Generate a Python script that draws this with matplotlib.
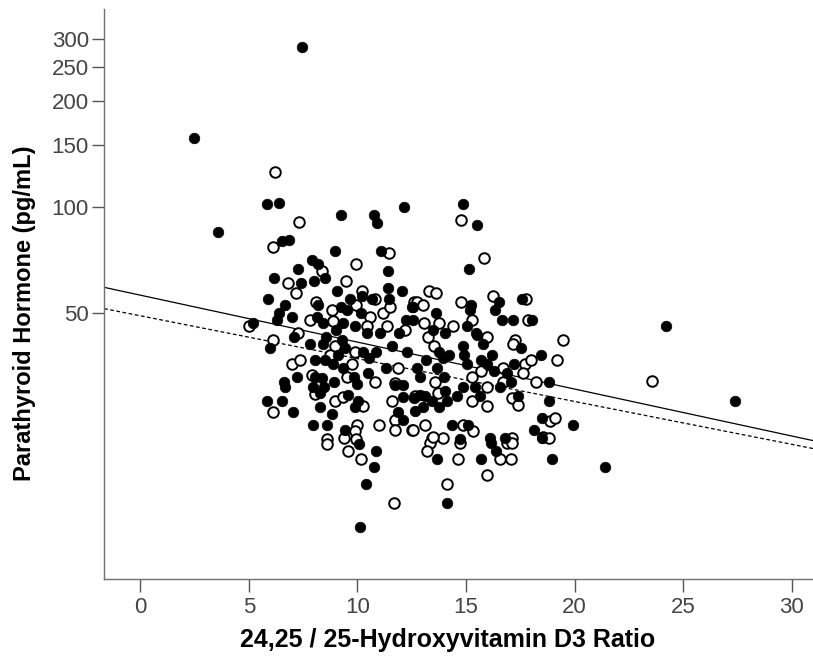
import numpy as np
import matplotlib.pyplot as plt
from matplotlib.ticker import FixedLocator, NullLocator

# filled markers
filled_x = [2.5, 3.6, 7.45, 24.2, 27.4, 21.4,
            5.86, 6.41, 9.24, 10.77, 10.9, 12.16, 6.52, 6.83, 8.97, 11.08, 7.9, 8.2, 7.26, 11.43,
            6.18, 7.4, 8.02, 8.51, 9.05, 11.43, 12.07, 5.9, 9.66, 10.2, 10.66, 11.47, 12.5, 6.67,
            8.2, 6.4, 6.98, 6.3, 8.16, 8.4, 9.25, 9.54, 10.16, 12.24, 5.2, 8.56, 9.0, 9.36, 9.9,
            10.46, 11.04, 11.93, 7.1,
            14.88, 15.52, 15.13, 12.55, 15.23, 15.19, 16.5, 16.33, 17.57, 16.66, 17.18, 18.04,
            13.62, 12.58, 13.5, 14.04, 15.06, 15.46,
            5.98, 7.82, 8.4, 9.28, 9.43, 10.25, 10.86, 10.55, 11.58, 12.27, 8.05, 8.5, 8.87, 9.13,
            9.36, 11.32, 7.2, 8.05, 8.36, 8.93, 9.85, 9.97, 10.5, 6.6, 6.67, 7.95, 8.47, 8.28, 9.59,
            10.05, 9.9, 11.73, 12.12, 12.12, 12.6, 5.86, 6.52, 7.05, 8.3, 8.82, 11.89, 12.12, 7.97,
            8.59, 9.43,
            17.52, 18.44, 13.16, 13.77, 13.95, 14.23, 14.88, 14.9, 15.77, 15.5, 16.18, 15.67, 15.98,
            15.06, 16.29, 17.2, 16.87, 17.06, 18.8, 12.73, 12.89, 13.65, 13.99, 12.89, 13.1, 13.42,
            14.04, 14.12, 14.57, 14.85, 15.42, 15.65, 16.57, 17.37, 13.77, 13.04, 12.66, 14.34,
            15.11, 18.84, 18.5, 19.94, 18.13, 14.73, 16.1, 16.8,
            10.08, 10.84, 10.77, 10.4, 10.12, 13.68, 14.12, 16.14, 16.38, 15.67, 18.5, 18.98]
filled_y = [157, 85, 285, 46, 28.3, 18.3,
            102, 103, 95, 95, 90, 100, 80, 81, 75, 75, 71, 69, 67, 66,
            63, 61, 62, 63, 58, 59, 58, 55, 55, 56, 55, 55, 52, 53,
            53, 50, 49, 48, 49, 47, 52, 51, 50, 48, 47, 43, 45, 47, 46,
            44, 44, 44, 43,
            102, 89, 67, 52, 53, 51, 54, 51, 55, 48, 48, 48,
            50, 48, 45, 44, 46, 44,
            40, 41, 41, 42, 40, 39, 39, 37.5, 40.5, 39, 37, 37, 36, 38,
            35, 35, 33, 33, 32.8, 32, 33, 31.5, 34, 32, 31, 31, 31, 29.8, 29.4,
            28.3, 27.1, 31.3, 31.3, 29, 28.7, 28.2, 28.2, 26.2, 27.2, 26, 26.2, 25, 24.2,
            24.2, 23.3,
            40, 38, 37, 39, 37.5, 38, 40.5, 38, 41, 43.5, 38, 37, 36,
            36, 34.3, 36, 34, 32, 32, 35, 33, 35, 33, 29.4, 29.2, 28.3,
            30.2, 28.3, 29.2, 31, 31, 29.2, 31, 29.2, 27.2, 27.2, 26.4, 24.2,
            24.2, 28.2, 25.2, 24.2, 23.3, 22, 22.2, 22.1,
            21.3, 20.4, 18.3, 16.4, 12.4, 19.3, 14.5, 21.4, 20.4, 19.3, 22.2, 19.3]

# open markers
open_x = [6.2, 23.56, 5.0,
          7.3, 6.13, 11.46, 8.36, 9.94, 6.8, 9.48, 7.16, 10.2, 8.1, 10.8, 12.6, 7.8, 8.82, 9.94,
          10.58, 11.2, 11.5, 6.13, 7.28, 10.43, 11.35, 12.2, 8.9, 8.97,
          14.76, 15.83, 13.3, 13.6, 12.73, 13.0, 14.76, 16.23, 17.75, 17.87, 13.07, 13.77, 14.42,
          15.26, 15.95, 17.26, 19.48, 13.27,
          9.9, 6.98, 7.36, 8.74, 9.74, 11.89, 7.9, 9.5, 10.8, 8.05, 8.97, 9.36, 10.28, 11.73, 11.58,
          6.13, 11.73, 9.97, 9.9, 11.0, 11.73, 12.5, 8.59, 9.94,
          17.18, 19.17, 13.53, 15.69, 16.69, 17.72, 17.98, 16.72, 17.6, 18.22, 13.57, 12.66, 13.73,
          15.26, 15.98, 15.26, 17.1, 17.4, 15.95, 13.1, 14.88, 15.34, 18.87, 19.1, 18.56, 12.58,
          13.42, 13.96, 17.1,
          8.62, 9.39, 9.59, 10.16, 11.69, 13.35, 13.47, 13.2, 14.7, 14.65, 14.12, 16.87, 17.1,
          16.57, 17.06, 15.95, 18.84]
open_y = [126, 32.2, 46,
          91, 77, 74, 66, 69, 61, 62, 57, 58, 54, 55, 54, 48, 51, 53,
          49, 50, 52, 42, 44, 46, 46, 45, 47.5, 40.5,
          92, 72, 58, 57, 54, 53, 54, 56, 55, 48, 47, 47, 46,
          48, 43, 42, 42, 43,
          39, 36, 37, 38, 36, 35, 33.5, 33, 32, 29.5, 28.3, 29, 27.4, 31.8, 28.3,
          26.2, 25, 24.2, 23.2, 24.2, 23.3, 23.3, 22, 22,
          41, 37, 40.5, 34.4, 35, 36, 37, 32, 34, 32, 32, 29.2, 29.7,
          33, 31, 28.3, 28.7, 27.5, 27.3, 24.2, 24.2, 23.2, 24.8, 25.2, 22.3, 23.4,
          22.2, 22.2, 22.1,
          21.3, 22.2, 20.4, 19.3, 14.5, 21.4, 22.3, 20.4, 21.4, 19.3, 16.4, 21.4, 21.4,
          19.3, 19.3, 17.4, 22.2]

# fit lines (end points)
fit_x = [-1.66, 30.97]
fit_solid_y = [59.3, 21.8]
fit_dashed_y = [51.6, 20.7]

x_ticks = [0, 5, 10, 15, 20, 25, 30]
y_ticks = [50, 100, 150, 200, 250, 300]

plt.rcParams['font.family'] = ['Liberation Sans', 'DejaVu Sans']

fig = plt.figure(figsize=(8.13, 6.65), dpi=100)
ax = fig.add_axes([0.128, 0.1293, 0.872, 0.8572])

ax.plot(fit_x, fit_solid_y, color='black', lw=0.9, zorder=1)
ax.plot(fit_x, fit_dashed_y, color='black', lw=0.9, ls=(0, (3, 2)), zorder=1)

ax.scatter(open_x, open_y, s=58, facecolors='white', edgecolors='black', linewidths=1.4, zorder=2)
ax.scatter(filled_x, filled_y, s=58, facecolors='black', edgecolors='black', linewidths=0.5, zorder=3)

ax.set_yscale('log')
ax.set_xlim(-1.66, 30.97)
ax.set_ylim(8.83, 365)
ax.yaxis.set_major_locator(FixedLocator(y_ticks))
ax.yaxis.set_minor_locator(NullLocator())
ax.set_yticklabels([str(v) for v in y_ticks])
ax.set_xticks(x_ticks)

for side in ['top', 'right']:
    ax.spines[side].set_visible(False)
for side in ['left', 'bottom']:
    ax.spines[side].set_color('#707070')
    ax.spines[side].set_linewidth(1.0)
ax.tick_params(length=9, width=1.0, color='#555555', labelsize=16, labelcolor='#444444')
ax.tick_params(axis='x', pad=4)
ax.tick_params(axis='y', pad=2)

ax.set_xlabel('24,25 / 25-Hydroxyvitamin D3 Ratio', fontsize=18, fontweight='bold')
ax.set_ylabel('Parathyroid Hormone (pg/mL)', fontsize=17, fontweight='bold')
ax.xaxis.set_label_coords(0.485, -0.086)
ax.yaxis.set_label_coords(-0.096, 0.467)

plt.savefig('out.png', dpi=100)
